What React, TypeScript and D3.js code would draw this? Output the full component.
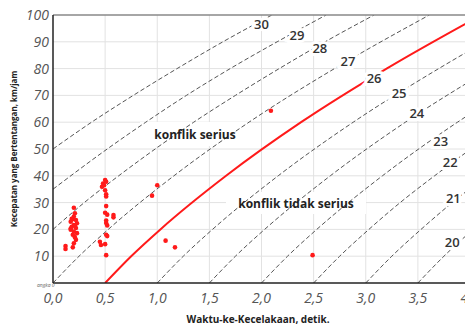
import * as d3 from "d3";

// TA (s) vs conflicting speed (km/h)
const xTicks = [0, 0.5, 1, 1.5, 2, 2.5, 3, 3.5, 4];
const xTickLabels = ["0,0", "0,5", "1,0", "1,5", "2,0", "2,5", "3,0", "3,5", "4,0"];
const yTicks = [10, 20, 30, 40, 50, 60, 70, 80, 90, 100];

// severity curves: [TA, speed]
const curve30 = [[0, 50], [0.37, 60], [0.77, 70], [1.19, 80], [1.63, 90], [2.1, 100]];
const curve29 = [[0, 35], [0.52, 50], [0.89, 60], [1.28, 70], [1.7, 80], [2.15, 90], [2.62, 100]];
const curve28 = [[0, 20], [0.3, 30], [0.63, 40], [0.98, 50], [1.35, 60], [1.75, 70], [2.17, 80], [2.61, 90], [3.08, 100]];
const curve27 = [[0, 0], [0.25, 10], [0.53, 20], [1.16, 40], [1.88, 60], [2.7, 80], [3.61, 100]];
const curve26 = [[0.5, 0], [0.75, 10], [1.03, 20], [1.66, 40], [2.38, 60], [3.2, 80], [4.11, 100]];
const curve25 = [[1, 0], [1.25, 10], [1.53, 20], [2.16, 40], [2.88, 60], [3.7, 80], [4.14, 90]];
const curve24 = [[1.5, 0], [1.75, 10], [2.03, 20], [2.66, 40], [3.38, 60], [4.2, 80]];
const curve23 = [[2, 0], [2.25, 10], [2.53, 20], [3.16, 40], [3.88, 60], [4.28, 70]];
const curve22 = [[2.5, 0], [2.75, 10], [3.03, 20], [3.33, 30], [3.66, 40], [4.01, 50], [4.4, 60]];
const curve21 = [[3, 0], [3.25, 10], [3.53, 20], [3.83, 30], [4.16, 40]];
const curve20 = [[3.5, 0], [3.75, 10], [4.03, 20], [4.33, 30]];

const dashedCurves = [curve30, curve29, curve28, curve27, curve25, curve24, curve23, curve22, curve21, curve20];
const boundary = curve26;

const curveNames = ["30", "29", "28", "27", "26", "25", "24", "23", "22", "21", "20"];
const curveLabelAt = [
  [2.0, 96.3], [2.34, 92.5], [2.56, 87.7], [2.83, 82.5], [3.08, 76.5], [3.32, 70.9],
  [3.49, 63.4], [3.72, 53.0], [3.81, 45.1], [3.84, 31.7], [3.83, 15.3],
];

// observed conflicts: TA and speed
const obsTA = [
  0.12, 0.12,
  0.2, 0.21, 0.2, 0.19, 0.22, 0.17, 0.23, 0.2, 0.18, 0.22, 0.17, 0.2, 0.23, 0.19, 0.21, 0.22, 0.2, 0.19, 0.17, 0.21, 0.18,
  0.47, 0.48, 0.5, 0.51, 0.49, 0.5, 0.51, 0.51, 0.51, 0.5, 0.52, 0.51, 0.51, 0.52, 0.51, 0.52, 0.45, 0.46, 0.5, 0.51, 0.58, 0.58,
  0.95, 1.0, 1.08, 1.17, 2.09, 2.49,
];
const obsSpeed = [
  13.8, 12.7,
  28.1, 26.0, 24.8, 23.8, 23.5, 22.9, 22.3, 21.6, 21.0, 20.5, 19.9, 19.2, 18.6, 18.0, 17.1, 16.1, 14.8, 13.3, 20.3, 21.5, 24.0,
  35.9, 37.1, 38.4, 37.8, 36.5, 34.6, 33.1, 32.3, 28.7, 26.2, 25.5, 23.3, 22.4, 21.5, 18.0, 17.5, 15.4, 14.2, 14.5, 10.4, 25.4, 24.5,
  32.6, 36.5, 15.8, 13.3, 64.3, 10.4,
];

export default function App() {
  const width = 465;
  const height = 331;
  const margin = { top: 15, left: 53, bottom: 48 };
  const plotRight = 470;

  const x = d3.scaleLinear().domain([0, 4]).range([margin.left, plotRight]);
  const y = d3.scaleLinear().domain([0, 100]).range([height - margin.bottom, margin.top]);

  const line = d3
    .line<number[]>()
    .x((d) => x(d[0]))
    .y((d) => y(d[1]))
    .curve(d3.curveMonotoneX);

  const font = "'Open Sans', 'Noto Sans', sans-serif";

  return (
    <svg
      width={width}
      height={height}
      style={{ position: "absolute", left: 0, top: 0, background: "#fff" }}
      fontFamily={font}
    >
      <defs>
        <clipPath id="plot">
          <rect x={margin.left} y={margin.top} width={plotRight - margin.left} height={y(0) - margin.top} />
        </clipPath>
      </defs>

      {/* grid */}
      <g stroke="#e2e2e2" strokeWidth={1}>
        {xTicks.slice(1).map((t) => (
          <line key={t} x1={x(t)} x2={x(t)} y1={y(0)} y2={y(100)} />
        ))}
        {yTicks.slice(0, -1).map((t) => (
          <line key={t} x1={x(0)} x2={plotRight} y1={y(t)} y2={y(t)} />
        ))}
      </g>

      {/* zone labels boxes */}
      <rect x={140} y={122} width={110} height={24} fill="#fff" />
      <rect x={226} y={192} width={140} height={22} fill="#fff" />

      {/* curves */}
      <g clipPath="url(#plot)" fill="none">
        {dashedCurves.map((c, i) => (
          <path key={i} d={line(c) || ""} stroke="#555" strokeWidth={1} strokeDasharray="4.5,2.5" />
        ))}
        <path d={line(boundary) || ""} stroke="#ff1a1a" strokeWidth={2} />
      </g>

      {/* curve labels */}
      {curveNames.map((n, i) => (
        <text
          key={n}
          x={x(curveLabelAt[i][0])}
          y={y(curveLabelAt[i][1])}
          dy="0.35em"
          textAnchor="middle"
          fontSize={13}
          fontWeight={600}
          fill="#333"
          stroke="#fff"
          strokeWidth={6}
          paintOrder="stroke"
        >
          {n}
        </text>
      ))}

      {/* points */}
      <g fill="#ff1a1a">
        {obsTA.map((t, i) => (
          <circle key={i} cx={x(t)} cy={y(obsSpeed[i])} r={2.3} />
        ))}
      </g>

      {/* frame */}
      <line x1={x(0)} x2={plotRight} y1={y(100)} y2={y(100)} stroke="#888" strokeWidth={1.5} />
      <line x1={x(0)} x2={x(0)} y1={y(100)} y2={y(0)} stroke="#222" strokeWidth={1.5} />
      <line x1={x(0)} x2={plotRight} y1={y(0)} y2={y(0)} stroke="#222" strokeWidth={1.5} />

      {/* zone labels */}
      <text x={195} y={139} textAnchor="middle" fontSize={12} fontWeight={700} fill="#222">
        konflik serius
      </text>
      <text x={296} y={208} textAnchor="middle" fontSize={12} fontWeight={700} fill="#222">
        konflik tidak serius
      </text>

      {/* y ticks */}
      {yTicks.map((t) => (
        <text key={t} x={49} y={y(t)} dy="0.36em" textAnchor="end" fontSize={14} fontStyle="italic" fill="#555">
          {t}
        </text>
      ))}
      <text x={37} y={287} fontSize={5} fontStyle="italic" fill="#666">
        angka 0
      </text>

      {/* x ticks */}
      {xTicks.map((t, i) => (
        <text key={t} x={x(t)} y={303} textAnchor="middle" fontSize={14} fontStyle="italic" fill="#555">
          {xTickLabels[i]}
        </text>
      ))}

      {/* axis titles */}
      <text x={258} y={323} textAnchor="middle" fontSize={10} fontWeight={700} fill="#222">
        Waktu-ke-Kecelakaan, detik.
      </text>
      <text
        transform={`translate(17, ${(y(0) + y(100)) / 2}) rotate(-90)`}
        textAnchor="middle"
        fontSize={8}
        fontWeight={700}
        fill="#222"
      >
        Kecepatan yang Bertentangan, km/jam
      </text>
    </svg>
  );
}
